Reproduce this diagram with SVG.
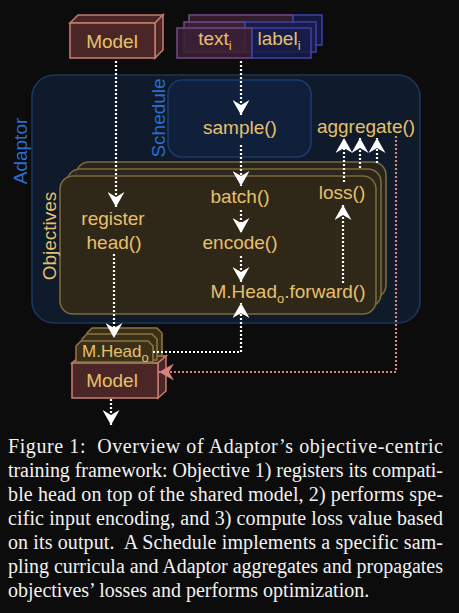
<svg xmlns="http://www.w3.org/2000/svg" width="459" height="613" viewBox="0 0 459 613">
<style>
.lbl{font-family:"Liberation Sans",Arial,sans-serif;font-size:19px;fill:#e6c06c;text-anchor:middle}
.sub{font-size:13px}
.blue{font-family:"Liberation Sans",Arial,sans-serif;font-size:19px;fill:#2a6ed4;text-anchor:middle}
.cap{font-family:"Liberation Serif","Times New Roman",serif;font-size:20px;fill:#f2f2f2}
.model{fill:#4a2626;stroke:#c27a6c;stroke-width:1.6}
.obj{fill:#2f2718;stroke:#7a6a40;stroke-width:1.6}
.head{fill:#3a3018;stroke:#8a7440;stroke-width:1.6}
.txtbox{fill:#3a2034;fill-opacity:0.85;stroke:#6e4680;stroke-width:1.6}
.labbox{fill:#181c4a;fill-opacity:0.85;stroke:#3b40a0;stroke-width:1.6}
.w{fill:none;stroke:#ffffff;stroke-width:2.2;stroke-dasharray:2 2}
.p{fill:none;stroke:#d8847e;stroke-width:2.2;stroke-dasharray:2 2}
</style>
<defs>
<marker id="aw" markerUnits="userSpaceOnUse" markerWidth="15" markerHeight="17" viewBox="0 0 15 17" refX="15" refY="8.5" orient="auto">
<path d="M0,0 L15,8.5 L0,17 L5,8.5 Z" fill="#ffffff"/>
</marker>
<marker id="ap" markerUnits="userSpaceOnUse" markerWidth="15" markerHeight="17" viewBox="0 0 15 17" refX="15" refY="8.5" orient="auto">
<path d="M0,0 L15,8.5 L0,17 L5,8.5 Z" fill="#d8847e"/>
</marker>
</defs>
<rect width="459" height="613" fill="#0c0c0c"/>

<g id="adaptor">
<rect x="32" y="75" width="388" height="248" rx="22" fill="#0f1a2a" stroke="#1b365c" stroke-width="1.6"/>
<text class="blue" transform="translate(27,151) rotate(-90)">Adaptor</text>
</g>

<g id="schedule">
<rect x="168" y="80" width="143" height="77" rx="14" fill="#10203a" stroke="#1c3a70" stroke-width="1.6"/>
<text class="blue" transform="translate(165,118) rotate(-90)">Schedule</text>
<text class="lbl" x="240" y="134">sample()</text>
</g>

<g id="aggregate">
<text class="lbl" x="366" y="133">aggregate()</text>
</g>

<g id="objectives">
<rect class="obj" x="76" y="162" width="310" height="136" rx="13" fill-opacity="0.8"/>
<rect class="obj" x="67" y="169" width="314" height="138" rx="13" fill-opacity="0.8"/>
<rect class="obj" x="60" y="176" width="316" height="138" rx="13"/>
<text class="lbl" transform="translate(56,236) rotate(-90)">Objectives</text>
<text class="lbl" x="113" y="225">register</text>
<text class="lbl" x="114" y="249">head()</text>
<text class="lbl" x="240" y="203">batch()</text>
<text class="lbl" x="240" y="249">encode()</text>
<text class="lbl" x="342" y="199">loss()</text>
<text class="lbl" x="288" y="298">M.Head<tspan class="sub" dy="5">o</tspan><tspan dy="-5">.forward()</tspan></text>
</g>

<g id="model-top">
<polygon class="model" points="70,23 78,15 163,15 155,23"/>
<polygon class="model" points="155,23 163,15 163,50 155,58"/>
<rect class="model" x="70" y="23" width="85" height="35"/>
<text class="lbl" x="112" y="48">Model</text>
</g>

<g id="data">
<rect class="txtbox" x="189" y="15" width="104" height="30"/>
<rect class="labbox" x="293" y="15" width="29" height="30"/>
<rect class="txtbox" x="184" y="22" width="61" height="30"/>
<rect class="labbox" x="245" y="22" width="71" height="30"/>
<rect class="txtbox" x="177" y="28" width="75" height="30"/>
<rect class="labbox" x="252" y="28" width="59" height="30"/>
<text class="lbl" x="215" y="45">text<tspan class="sub" dy="5">i</tspan></text>
<text class="lbl" x="279" y="45">label<tspan class="sub" dy="5">i</tspan></text>
</g>

<g id="model-bottom">
<polygon class="model" points="72,363 80,356 166,356 158,363"/>
<polygon class="model" points="158,363 166,356 166,391 158,398"/>
<rect class="model" x="72" y="363" width="86" height="35"/>
<text class="lbl" x="112" y="387">Model</text>
</g>

<g id="mhead">
<polygon class="head" points="87,333 92,328 157,328 162,333 162,356 87,356"/>
<polygon class="head" points="82,339 87,334 152,334 157,339 157,360 82,360"/>
<polygon class="head" points="76,346 81,341 148,341 153,346 153,362 76,362"/>
<text class="lbl" x="82" y="357" style="font-size:17px;text-anchor:start">M.Head<tspan class="sub" dy="5">o</tspan></text>
</g>

<g id="connectors">
<path class="w" d="M116,61 V207" marker-end="url(#aw)"/>
<path class="w" d="M114,254 V338" marker-end="url(#aw)"/>
<path class="w" d="M241,61 V115" marker-end="url(#aw)"/>
<path class="w" d="M241,145 V186" marker-end="url(#aw)"/>
<path class="w" d="M241,210 V233" marker-end="url(#aw)"/>
<path class="w" d="M241,256 V282" marker-end="url(#aw)"/>
<path class="w" d="M153,352 H241 V303" marker-end="url(#aw)"/>
<path class="w" d="M343,283 V205" marker-end="url(#aw)"/>
<path class="w" d="M344,182 V138" marker-end="url(#aw)"/>
<path class="w" d="M360,168 V138" marker-end="url(#aw)"/>
<path class="w" d="M377,163 V138" marker-end="url(#aw)"/>
<path class="p" d="M396,136 V372 H159" marker-end="url(#ap)"/>
<path class="w" d="M111,399 V425" marker-end="url(#aw)"/>
</g>

<g id="caption">
<text class="cap" x="8" y="453" textLength="435" lengthAdjust="spacing">Figure 1:&#160; Overview of Adapt<tspan font-style="italic">o</tspan>r’s objective-centric</text>
<text class="cap" x="8" y="477" textLength="435" lengthAdjust="spacing">training framework: Objective 1) registers its compati-</text>
<text class="cap" x="8" y="501" textLength="435" lengthAdjust="spacing">ble head on top of the shared model, 2) performs spe-</text>
<text class="cap" x="8" y="525" textLength="435" lengthAdjust="spacing">cific input encoding, and 3) compute loss value based</text>
<text class="cap" x="8" y="549" textLength="435" lengthAdjust="spacing">on its output.&#160; A Schedule implements a specific sam-</text>
<text class="cap" x="8" y="573" textLength="435" lengthAdjust="spacing">pling curricula and Adapt<tspan font-style="italic">o</tspan>r aggregates and propagates</text>
<text class="cap" x="8" y="597">objectives’ losses and performs optimization.</text>
</g>
</svg>
